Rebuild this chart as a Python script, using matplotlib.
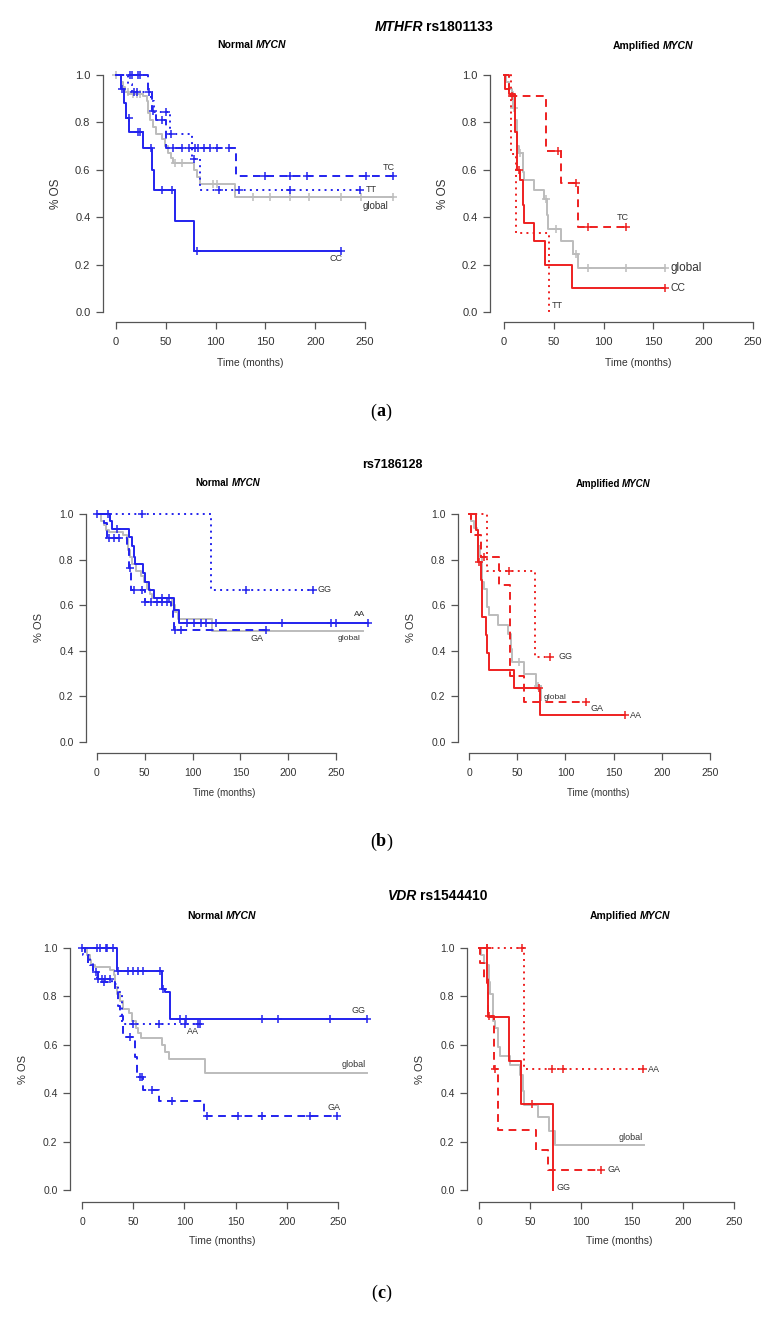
import matplotlib
matplotlib.use("Agg")
import matplotlib.pyplot as plt
import numpy as np

plt.rcParams['font.family'] = ['Liberation Sans', 'DejaVu Sans']

# ---- data: event times (months), survival after each event, censor times ----
# global curves are the same cohort in every panel
glob_norm_time = [4.7, 7.4, 9, 12.4, 27.5, 31, 32.5, 34.2, 37, 40.3, 46, 49.3, 52.7, 55, 57.7, 78, 81.2, 84.6, 119.8]
glob_norm_surv = [0.97, 0.95, 0.93, 0.92, 0.91, 0.89, 0.84, 0.81, 0.78, 0.75, 0.73, 0.70, 0.67, 0.65, 0.63, 0.60, 0.57, 0.54, 0.485]
glob_norm_cens = [0, 11.7, 16.8, 20.8, 24, 59.4, 66, 97.7, 101, 138, 155, 175, 193.5, 225.5, 245.6, 278]

glob_amp_time = [1.7, 5, 7.8, 9.5, 11, 13.5, 15.2, 18.6, 20.3, 30.4, 40.5, 43.2, 44.6, 57.4, 69, 74.3]
glob_amp_surv = [0.97, 0.94, 0.93, 0.86, 0.81, 0.70, 0.67, 0.59, 0.555, 0.515, 0.475, 0.41, 0.35, 0.30, 0.245, 0.185]
glob_amp_cens = [10, 16, 42, 52, 72, 84.5, 122.6, 162]

# (a) MTHFR rs1801133, normal MYCN
a_norm_tc_time = [32, 36, 40, 50.3, 120]
a_norm_tc_surv = [0.93, 0.85, 0.81, 0.69, 0.575]
a_norm_tc_cens = [14, 15.8, 22.5, 24, 33, 37, 46.6, 57, 66, 72.8, 79.5, 81.9, 88.6, 94.6, 101.3, 113, 150, 175, 192, 250.7, 278]
a_norm_tt_time = [12, 16, 35, 38, 54.4, 76.2, 84.6]
a_norm_tt_surv = [0.96, 0.93, 0.89, 0.845, 0.75, 0.645, 0.515]
a_norm_tt_cens = [18, 21, 50, 55, 78, 103, 123, 175, 244.5]
a_norm_cc_time = [5.5, 8, 10, 13.5, 27, 36, 38.5, 59.5, 78]
a_norm_cc_surv = [0.94, 0.88, 0.82, 0.76, 0.69, 0.60, 0.515, 0.386, 0.257]
a_norm_cc_cens = [6, 13, 22, 24, 35, 46, 56, 81, 225.5]
# (a) amplified MYCN
a_amp_tc_time = [5, 42.2, 57.4, 74.3]
a_amp_tc_surv = [0.91, 0.68, 0.545, 0.36]
a_amp_tc_cens = [8.4, 54, 72.6, 84.5, 122.6]
a_amp_tt_time = [7, 12, 45]
a_amp_tt_surv = [0.667, 0.333, 0.0]
a_amp_tt_cens = []
a_amp_cc_time = [1, 5, 11, 13.5, 16.5, 18.6, 19.6, 30.4, 41.6, 68.6]
a_amp_cc_surv = [0.94, 0.92, 0.76, 0.60, 0.555, 0.45, 0.375, 0.30, 0.20, 0.10]
a_amp_cc_cens = [15, 162]

# (b) rs7186128, normal MYCN
b_norm_gg_time = [119.6]
b_norm_gg_surv = [0.667]
b_norm_gg_cens = [0, 12, 47, 155.6, 225.5]
b_norm_aa_time = [14, 15.7, 33.2, 36.7, 38.5, 40, 48.3, 50.7, 54.2, 59.4, 80.4, 85.7]
b_norm_aa_surv = [0.97, 0.935, 0.90, 0.86, 0.81, 0.78, 0.74, 0.70, 0.665, 0.63, 0.58, 0.52]
b_norm_aa_cens = [21, 68, 75, 94.4, 101.4, 108.4, 113.6, 124, 194, 244.8, 250, 283]
b_norm_ga_time = [7, 10.5, 31.5, 33, 36, 49.7, 77, 79, 80.4]
b_norm_ga_surv = [0.96, 0.895, 0.85, 0.763, 0.665, 0.613, 0.58, 0.55, 0.49]
b_norm_ga_cens = [12.2, 17.5, 22.7, 34.3, 38.5, 47.2, 50.7, 56, 63, 68, 73.4, 82, 87.4, 176.6]
# (b) amplified MYCN
b_amp_gg_time = [18.4, 68.4]
b_amp_gg_surv = [0.75, 0.375]
b_amp_gg_cens = [41.7, 84.4]
b_amp_ga_time = [2, 12, 31.3, 43, 57.3]
b_amp_ga_surv = [0.91, 0.81, 0.69, 0.29, 0.175]
b_amp_ga_cens = [15.6, 121.5]
b_amp_aa_time = [7, 9.4, 9.8, 12.2, 13.2, 13.9, 17.4, 19.1, 20.8, 46.2, 74]
b_amp_aa_surv = [0.93, 0.86, 0.79, 0.71, 0.63, 0.55, 0.47, 0.39, 0.315, 0.235, 0.118]
b_amp_aa_cens = [10, 72.9, 162]

# (c) VDR rs1544410, normal MYCN
c_norm_gg_time = [33.9, 78, 81.2, 86]
c_norm_gg_surv = [0.905, 0.83, 0.818, 0.705]
c_norm_gg_cens = [0, 14.3, 17.6, 23.5, 24.5, 30.6, 35.5, 45.2, 50, 55, 60, 76, 79.4, 95.7, 102, 175.5, 191.7, 242, 278]
c_norm_aa_time = [1.3, 7.8, 11, 14.3, 29, 35.5, 38.7]
c_norm_aa_surv = [0.97, 0.93, 0.90, 0.87, 0.85, 0.82, 0.685]
c_norm_aa_cens = [16, 19.5, 22.7, 27.3, 50, 75.5, 100.6, 113.6, 115]
c_norm_ga_time = [3, 6.2, 11, 16, 17.6, 32, 35.5, 37, 40, 51.8, 53.4, 60, 75.5, 119]
c_norm_ga_surv = [0.97, 0.94, 0.90, 0.87, 0.86, 0.83, 0.76, 0.72, 0.632, 0.55, 0.466, 0.414, 0.366, 0.305]
c_norm_ga_cens = [14, 21.5, 46.9, 56.6, 58.3, 68, 87.6, 121.7, 152.7, 175.5, 222.7, 248.7]
# (c) amplified MYCN
c_amp_aa_time = [44]
c_amp_aa_surv = [0.5]
c_amp_aa_cens = [7.5, 41.8, 71.2, 82, 161]
c_amp_ga_time = [1, 5, 9, 15, 19, 56, 68]
c_amp_ga_surv = [0.94, 0.875, 0.72, 0.5, 0.25, 0.167, 0.083]
c_amp_ga_cens = [9.5, 15.7, 120]
c_amp_gg_time = [8, 9, 29.7, 40.8, 72.9]
c_amp_gg_surv = [0.857, 0.714, 0.535, 0.357, 0.0]
c_amp_gg_cens = [7.5, 51.6]

yticks = [0.0, 0.2, 0.4, 0.6, 0.8, 1.0]
xticks = [0, 50, 100, 150, 200, 250]

BLUE = '#2323ee'
RED = '#ee2020'
GREY = '#bcbcbc'
AXC = '#555555'
SOLID = '-'
DASH = (0, (4, 2.8))
DOT = (0, (1, 2.2))

W, H = 763, 1318
fig = plt.figure(figsize=(W / 100, H / 100), dpi=100)
renderer = fig.canvas.get_renderer()


def fx(px):
    return px / W


def fy(py):
    return 1 - py / H


def rich(xc, y, parts, size, family=None, gap=0):
    # parts: list of (text, weight, style); centred as a group at xc
    objs = []
    for txt, wt, st in parts:
        kw = dict(fontsize=size, fontweight=wt, fontstyle=st, va='center', ha='left')
        if family:
            kw['family'] = family
        objs.append(fig.text(0, fy(y), txt, **kw))
    widths = [o.get_window_extent(renderer).width for o in objs]
    total = sum(widths) + gap * (len(objs) - 1)
    x = xc - total / 2
    for o, w in zip(objs, widths):
        o.set_x(fx(x))
        x += w + gap


def km_axes(x_ax, x0, x250, y_ax, y0, y1, xmax, fs):
    ppm = (x250 - x0) / 250
    ppu = y0 - y1
    right = x0 + xmax * ppm
    top = y0 - 1.04 * ppu
    ax = fig.add_axes([fx(x_ax), fy(y_ax), (right - x_ax) / W, (y_ax - top) / H])
    ax.set_xlim((x_ax - x0) / ppm, xmax)
    ax.set_ylim(-(y_ax - y0) / ppu, 1.04)
    ax.patch.set_visible(False)
    ax.spines['top'].set_visible(False)
    ax.spines['right'].set_visible(False)
    ax.spines['left'].set_bounds(0, 1)
    ax.spines['bottom'].set_bounds(0, 250)
    for s in ['left', 'bottom']:
        ax.spines[s].set_color(AXC)
        ax.spines[s].set_linewidth(0.9)
    ax.set_xticks(xticks)
    ax.set_xticklabels([str(t) for t in xticks])
    ax.set_yticks(yticks)
    ax.set_yticklabels(['%.1f' % t for t in yticks])
    ax.tick_params(direction='out', length=5, width=0.9, color=AXC,
                   labelcolor='#333333', labelsize=fs)
    ax.tick_params(axis='x', pad=6)
    ax.tick_params(axis='y', pad=4)
    # y label placed in the pixel layout of the reference
    fig.text(fx(x_ax - 47), fy((y0 + y1) / 2), '% OS', rotation=90,
             ha='center', va='center', fontsize=fs + 0.5, color='#333333')
    return ax


def km(ax, time, surv, cens, color, ls, lw=1.4, marks=True, ms=6,
       label=None, off=(0, 0), ha='left', va='center', lsize=6.5):
    end = max([0] + list(time) + list(cens))
    t = np.r_[0, time, end]
    s = np.r_[1, surv, surv[-1]]
    ax.step(t, s, where='post', color=color, ls=ls, lw=lw, clip_on=False)
    if marks and len(cens):
        idx = np.searchsorted(t[:-1], cens, side='right') - 1
        ax.plot(cens, s[idx], '+', color=color, ms=ms, mew=1.1, ls='none', clip_on=False)
    if label:
        ax.annotate(label, (end, s[-1]), xytext=(off[0] * 0.72, off[1] * 0.72),
                    textcoords='offset points', ha=ha, va=va, fontsize=lsize,
                    color='#333333', annotation_clip=False)


# ---------------- panel (a) ----------------
rich(434, 27, [('MTHFR', 'bold', 'italic'), ('rs1801133', 'bold', 'normal')], 10, gap=3)
rich(252, 45, [('Normal', 'bold', 'normal'), ('MYCN', 'bold', 'italic')], 7.5, gap=2.5)
rich(653, 46, [('Amplified', 'bold', 'normal'), ('MYCN', 'bold', 'italic')], 7.5, gap=2.5)

ax = km_axes(103, 116, 365, 322, 312, 75, 290, 8)
km(ax, glob_norm_time, glob_norm_surv, glob_norm_cens, GREY, SOLID, ms=6,
   label='global', off=(-5, -4), ha='right', va='top', lsize=7)
km(ax, a_norm_tc_time, a_norm_tc_surv, a_norm_tc_cens, BLUE, DASH, ms=6,
   label='TC', off=(-4, 4), ha='center', va='bottom')
km(ax, a_norm_tt_time, a_norm_tt_surv, a_norm_tt_cens, BLUE, DOT, ms=6,
   label='TT', off=(6, 0))
km(ax, a_norm_cc_time, a_norm_cc_surv, a_norm_cc_cens, BLUE, SOLID, ms=6,
   label='CC', off=(2, -3), ha='right', va='top')
fig.text(fx(250), fy(363), 'Time (months)', ha='center', va='center', fontsize=7.5, color='#333333')

ax = km_axes(490, 504, 753, 322, 312, 75, 255, 8)
km(ax, glob_amp_time, glob_amp_surv, glob_amp_cens, GREY, SOLID, ms=6,
   label='global', off=(5, 0), lsize=8.5)
km(ax, a_amp_tc_time, a_amp_tc_surv, a_amp_tc_cens, RED, DASH, ms=6,
   label='TC', off=(-3, 5), ha='center', va='bottom')
km(ax, a_amp_tt_time, a_amp_tt_surv, a_amp_tt_cens, RED, DOT, ms=6,
   label='TT', off=(3, 6))
km(ax, a_amp_cc_time, a_amp_cc_surv, a_amp_cc_cens, RED, SOLID, ms=6,
   label='CC', off=(5, 0), lsize=7.5)
fig.text(fx(638), fy(363), 'Time (months)', ha='center', va='center', fontsize=7.5, color='#333333')

rich(381, 412, [('(', 'normal', 'normal'), ('a', 'bold', 'normal'), (')', 'normal', 'normal')],
     13, family='Liberation Serif')

# ---------------- panel (b) ----------------
rich(392, 465, [('rs7186128', 'bold', 'normal')], 9)
rich(228, 483, [('Normal', 'bold', 'normal'), ('MYCN', 'bold', 'italic')], 7, gap=2.5)
rich(613, 484, [('Amplified', 'bold', 'normal'), ('MYCN', 'bold', 'italic')], 7, gap=2.5)

ax = km_axes(86, 97, 336, 753, 742, 514, 290, 7.5)
km(ax, glob_norm_time, glob_norm_surv, glob_norm_cens, GREY, SOLID, marks=False,
   label='global', off=(-2, -4), ha='right', va='top', lsize=6)
km(ax, b_norm_gg_time, b_norm_gg_surv, b_norm_gg_cens, BLUE, DOT, ms=5.5,
   label='GG', off=(5, 0))
km(ax, b_norm_aa_time, b_norm_aa_surv, b_norm_aa_cens, BLUE, SOLID, ms=5.5,
   label='AA', off=(-2, 5), ha='right', va='bottom', lsize=6)
km(ax, b_norm_ga_time, b_norm_ga_surv, b_norm_ga_cens, BLUE, DASH, ms=5.5,
   label='GA', off=(-2, -4), ha='right', va='top')
fig.text(fx(224), fy(793), 'Time (months)', ha='center', va='center', fontsize=7, color='#333333')

ax = km_axes(458, 469, 710, 753, 742, 514, 255, 7.5)
km(ax, glob_amp_time, glob_amp_surv, [52, 72], GREY, SOLID, ms=5.5,
   label='global', off=(3, 2), lsize=6)
km(ax, b_amp_gg_time, b_amp_gg_surv, b_amp_gg_cens, RED, DOT, ms=5.5,
   label='GG', off=(8, 0))
km(ax, b_amp_ga_time, b_amp_ga_surv, b_amp_ga_cens, RED, DASH, ms=5.5,
   label='GA', off=(4, -6))
km(ax, b_amp_aa_time, b_amp_aa_surv, b_amp_aa_cens, RED, SOLID, ms=5.5,
   label='AA', off=(5, 0))
fig.text(fx(598), fy(793), 'Time (months)', ha='center', va='center', fontsize=7, color='#333333')

rich(381, 842, [('(', 'normal', 'normal'), ('b', 'bold', 'normal'), (')', 'normal', 'normal')],
     13, family='Liberation Serif')

# ---------------- panel (c) ----------------
rich(438, 896, [('VDR', 'bold', 'italic'), ('rs1544410', 'bold', 'normal')], 10, gap=3)
rich(222, 916, [('Normal', 'bold', 'normal'), ('MYCN', 'bold', 'italic')], 7.5, gap=2.5)
rich(630, 916, [('Amplified', 'bold', 'normal'), ('MYCN', 'bold', 'italic')], 7.5, gap=2.5)

ax = km_axes(70, 82, 338, 1202, 1190, 948, 290, 7.5)
km(ax, glob_norm_time, glob_norm_surv, glob_norm_cens, GREY, SOLID, marks=False,
   label='global', off=(-1, 4), ha='right', va='bottom')
km(ax, c_norm_gg_time, c_norm_gg_surv, c_norm_gg_cens, BLUE, SOLID, ms=6,
   label='GG', off=(-1, 4), ha='right', va='bottom')
km(ax, c_norm_aa_time, c_norm_aa_surv, c_norm_aa_cens, BLUE, DOT, ms=6,
   label='AA', off=(-1, -3), ha='right', va='top')
km(ax, c_norm_ga_time, c_norm_ga_surv, c_norm_ga_cens, BLUE, DASH, ms=6,
   label='GA', off=(-3, 4), ha='center', va='bottom')
fig.text(fx(222), fy(1241), 'Time (months)', ha='center', va='center', fontsize=7.5, color='#333333')

ax = km_axes(467, 479, 734, 1202, 1190, 948, 255, 7.5)
km(ax, glob_amp_time, glob_amp_surv, glob_amp_cens, GREY, SOLID, marks=False,
   label='global', off=(-1, 3), ha='right', va='bottom')
km(ax, c_amp_aa_time, c_amp_aa_surv, c_amp_aa_cens, RED, DOT, ms=6,
   label='AA', off=(5, 0))
km(ax, c_amp_ga_time, c_amp_ga_surv, c_amp_ga_cens, RED, DASH, ms=6,
   label='GA', off=(6, 0))
km(ax, c_amp_gg_time, c_amp_gg_surv, c_amp_gg_cens, RED, SOLID, ms=6,
   label='GG', off=(3, 3))
fig.text(fx(619), fy(1241), 'Time (months)', ha='center', va='center', fontsize=7.5, color='#333333')

rich(381, 1293, [('(', 'normal', 'normal'), ('c', 'bold', 'normal'), (')', 'normal', 'normal')],
     13, family='Liberation Serif')

fig.savefig('out.png', dpi=100)
